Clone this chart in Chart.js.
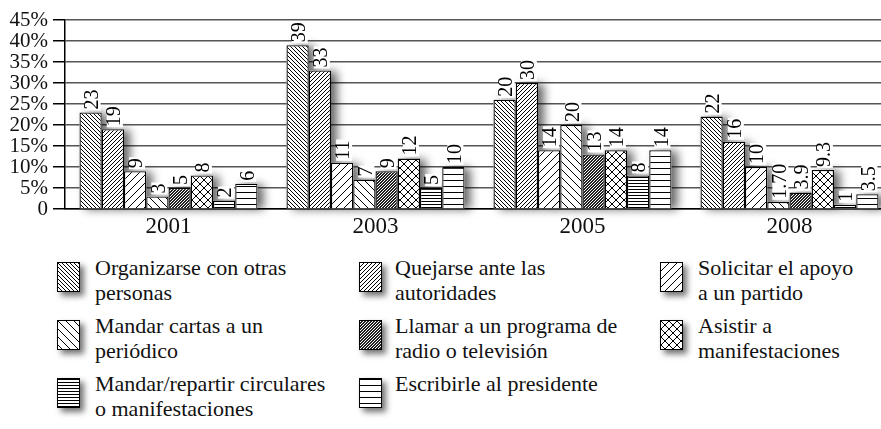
<!DOCTYPE html>
<html>
<head>
<meta charset="utf-8">
<script src="https://cdn.jsdelivr.net/npm/chart.js@4.4.1/dist/chart.umd.min.js"></script>
<style>
    body {
        margin: 0;
        background: #fff;
        width: 881px;
        height: 429px;
        overflow: hidden;
        position: relative;
        font-family: "Liberation Serif", "Times New Roman", Tinos, "Noto Serif", "DejaVu Serif", FreeSerif, serif;
        color: #111;
    }
    #chart {
        position: absolute;
        left: 0;
        top: 0;
    }
    .swatch {
        position: absolute;
        width: 23px;
        height: 30px;
        box-sizing: border-box;
        border: 1px solid #000;
        box-shadow: 4px 4px 6px rgba(0, 0, 0, 0.55);
    }
    .item-text {
        position: absolute;
        font-size: 22px;
        line-height: 25px;
        white-space: pre-line;
    }
</style>
</head>
<body>
<canvas id="chart" width="893" height="245"></canvas>
<div id="legend"></div>
<script>
const categories = ['2001', '2003', '2005', '2008'];

const seriesNames = [
    'Organizarse con otras\npersonas',
    'Quejarse ante las\nautoridades',
    'Solicitar el apoyo\na un partido',
    'Mandar cartas a un\nperiódico',
    'Llamar a un programa de\nradio o televisión',
    'Asistir a\nmanifestaciones',
    'Mandar/repartir circulares\no manifestaciones',
    'Escribirle al presidente'
];

// bar heights (percent)
const organizarse = [23, 39, 26, 22];
const quejarse = [19, 33, 30, 16];
const solicitar = [9, 11, 14, 10];
const cartas = [3, 7, 20, 1.7];
const llamar = [5, 9, 13, 3.9];
const asistir = [8, 12, 14, 9.3];
const circulares = [2, 5, 8, 1];
const presidente = [6, 10, 14, 3.5];

// printed labels above the bars (as they appear)
const organizarseLabels = ['23', '39', '20', '22'];
const quejarseLabels = ['19', '33', '30', '16'];
const solicitarLabels = ['9', '11', '14', '10'];
const cartasLabels = ['3', '7', '20', '1.70'];
const llamarLabels = ['5', '9', '13', '3.9'];
const asistirLabels = ['8', '12', '14', '9.3'];
const circularesLabels = ['2', '5', '8', '1'];
const presidenteLabels = ['6', '10', '14', '3.5'];

const yTicks = [0, 5, 10, 15, 20, 25, 30, 35, 40, 45];

const seriesValues = [organizarse, quejarse, solicitar, cartas, llamar, asistir, circulares, presidente];
const seriesLabels = [organizarseLabels, quejarseLabels, solicitarLabels, cartasLabels,
    llamarLabels, asistirLabels, circularesLabels, presidenteLabels];
const patternKinds = ['back-dense', 'fwd-dense', 'fwd', 'back', 'dots', 'cross', 'hlines-dense', 'hlines'];

const SERIF = '"Liberation Serif", "Times New Roman", Tinos, "Noto Serif", "DejaVu Serif", FreeSerif, serif';

function makePatternCanvas(kind) {
    const sizes = {
        'back-dense': 4, 'fwd-dense': 4, 'fwd': 8, 'back': 8,
        'dots': 3, 'cross': 8, 'hlines-dense': 3, 'hlines': 6
    };
    const s = sizes[kind];
    const c = document.createElement('canvas');
    c.width = s;
    c.height = s;
    const g = c.getContext('2d');
    g.fillStyle = '#fff';
    g.fillRect(0, 0, s, s);
    g.strokeStyle = '#000';
    g.fillStyle = '#000';
    g.lineWidth = 1;

    const back = () => {
        for (let k = -s; k <= s; k += s) {
            g.beginPath(); g.moveTo(k, 0); g.lineTo(k + s, s); g.stroke();
        }
    };
    const fwd = () => {
        for (let k = -s; k <= s; k += s) {
            g.beginPath(); g.moveTo(k, s); g.lineTo(k + s, 0); g.stroke();
        }
    };

    if (kind === 'back-dense' || kind === 'back') back();
    if (kind === 'fwd-dense' || kind === 'fwd') fwd();
    if (kind === 'cross') { back(); fwd(); }
    if (kind === 'dots') {
        g.fillStyle = '#222';
        g.fillRect(0, 0, s, s);
        g.fillStyle = '#fff';
        g.fillRect(0, 0, 1, 1);
        g.fillRect(2, 1, 1, 1);
        g.fillRect(1, 2, 1, 1);
    }
    if (kind === 'hlines-dense' || kind === 'hlines') {
        g.fillRect(0, 0, s, 1);
    }
    return c;
}

const ctx = document.getElementById('chart').getContext('2d');
const patterns = patternKinds.map(k => ctx.createPattern(makePatternCanvas(k), 'repeat'));

// drop shadow behind each bar, drawn before the bars so the next bar hides it
const barShadow = {
    id: 'barShadow',
    beforeDatasetsDraw(chart) {
        const c = chart.ctx;
        c.save();
        c.shadowColor = 'rgba(0, 0, 0, 0.6)';
        c.shadowBlur = 10;
        c.shadowOffsetX = 6;
        c.shadowOffsetY = 1;
        c.fillStyle = '#fff';
        chart.data.datasets.forEach((ds, i) => {
            chart.getDatasetMeta(i).data.forEach(bar => {
                const p = bar.getProps(['x', 'y', 'base', 'width'], true);
                c.fillRect(p.x - p.width / 2, p.y, p.width, p.base - p.y);
            });
        });
        c.restore();
    }
};

// rotated value labels with a white backing
const barLabels = {
    id: 'barLabels',
    afterDatasetsDraw(chart) {
        const c = chart.ctx;
        c.save();
        c.font = '20px ' + SERIF;
        chart.data.datasets.forEach((ds, i) => {
            chart.getDatasetMeta(i).data.forEach((bar, j) => {
                const text = seriesLabels[i][j];
                const w = c.measureText(text).width;
                c.save();
                c.translate(bar.x + 2, bar.y - 3);
                c.rotate(-Math.PI / 2);
                c.fillStyle = '#fff';
                c.fillRect(-1, -8, w + 2, 16);
                c.fillStyle = '#000';
                c.textAlign = 'left';
                c.textBaseline = 'middle';
                c.fillText(text, 0, 0);
                c.restore();
            });
        });
        c.restore();
    }
};

new Chart(ctx, {
    type: 'bar',
    data: {
        labels: categories,
        datasets: seriesValues.map((vals, i) => ({
            label: seriesNames[i],
            data: vals,
            backgroundColor: patterns[i],
            borderColor: '#000',
            borderWidth: 1.3,
            barPercentage: 1,
            categoryPercentage: 0.86
        }))
    },
    options: {
        responsive: false,
        animation: false,
        devicePixelRatio: 1,
        layout: {
            padding: { top: 20, right: 0, bottom: 0, left: 0 }
        },
        scales: {
            x: {
                afterFit: scale => { scale.height = 36; },
                grid: { display: false, drawTicks: false },
                border: { color: '#000', width: 1.5 },
                ticks: {
                    padding: 4,
                    color: '#111',
                    font: { family: SERIF, size: 23 }
                }
            },
            y: {
                min: 0,
                max: 45,
                afterFit: scale => { scale.width = 65; },
                afterBuildTicks: scale => { scale.ticks = yTicks.map(v => ({ value: v })); },
                grid: {
                    color: '#555',
                    lineWidth: 1.5,
                    tickLength: 12,
                    tickColor: '#000'
                },
                border: { color: '#000', width: 1.5 },
                ticks: {
                    autoSkip: false,
                    padding: 5,
                    color: '#111',
                    font: { family: SERIF, size: 21 },
                    callback: v => v === 0 ? '0' : v + '%'
                }
            }
        },
        plugins: {
            legend: { display: false },
            tooltip: { enabled: false }
        }
    },
    plugins: [barShadow, barLabels]
});

// legend, three columns filled row by row
const legend = document.getElementById('legend');
const swatchLeft = [57, 359, 660];
const textLeft = [95, 395, 698];
const rowTop = [262, 320, 378];

seriesNames.forEach((name, i) => {
    const col = i % 3;
    const row = Math.floor(i / 3);

    const sw = document.createElement('canvas');
    sw.width = 21;
    sw.height = 28;
    sw.className = 'swatch';
    sw.style.left = swatchLeft[col] + 'px';
    sw.style.top = rowTop[row] + 'px';
    const g = sw.getContext('2d');
    g.fillStyle = g.createPattern(makePatternCanvas(patternKinds[i]), 'repeat');
    g.fillRect(0, 0, 21, 28);
    legend.appendChild(sw);

    const t = document.createElement('div');
    t.className = 'item-text';
    t.style.left = textLeft[col] + 'px';
    t.style.top = (rowTop[row] - 7) + 'px';
    t.textContent = name;
    legend.appendChild(t);
});
</script>
</body>
</html>
